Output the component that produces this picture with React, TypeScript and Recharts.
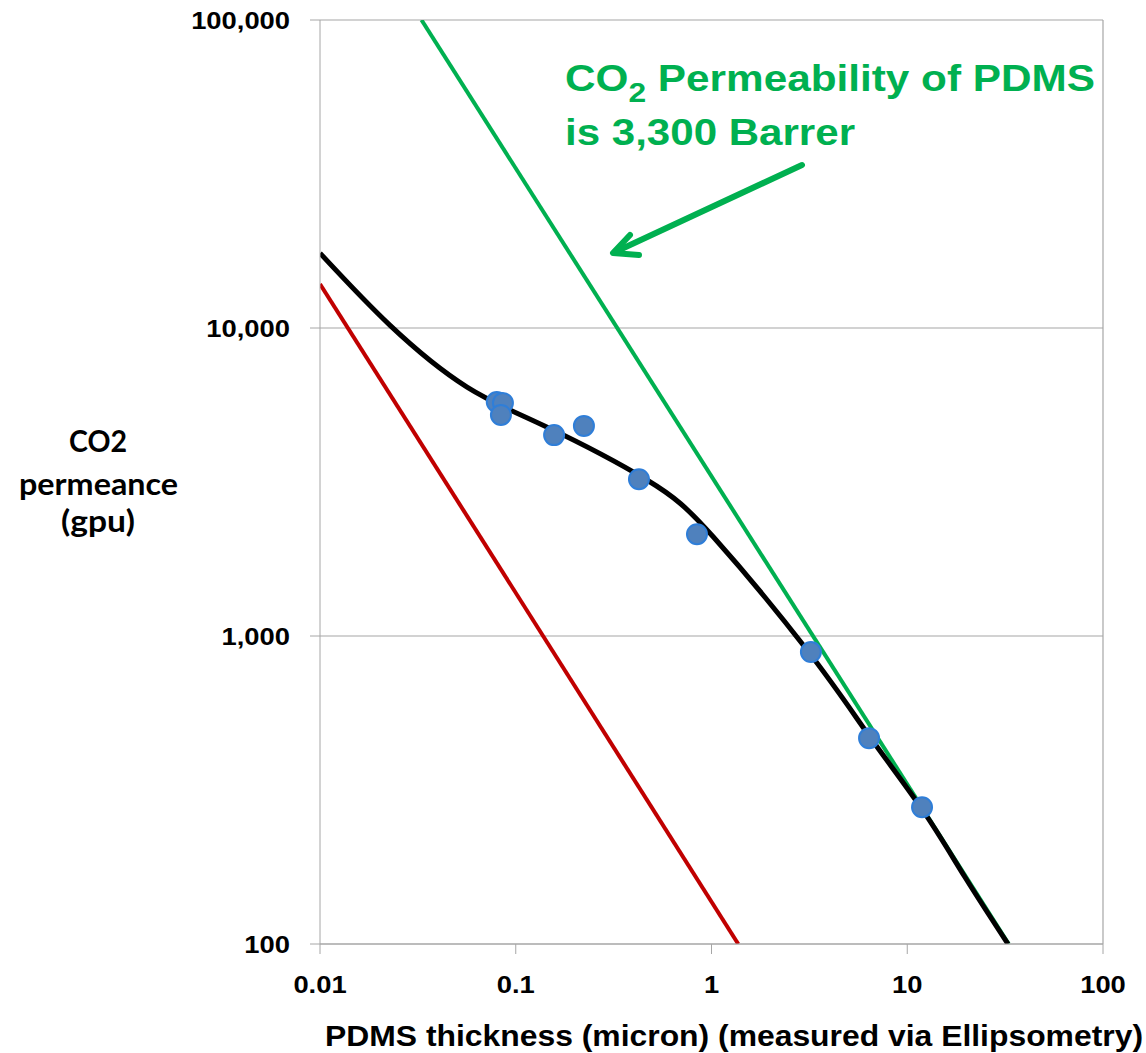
import { ComposedChart, Line, Scatter, XAxis, YAxis, CartesianGrid, ReferenceLine } from 'recharts'

const xTicks = [0.01, 0.1, 1, 10, 100]
const yTicks = [100, 1000, 10000, 100000]

// measured membranes (thickness in micron, CO2 permeance in gpu)
const thickness = [0.08, 0.086, 0.084, 0.157, 0.223, 0.426, 0.843, 3.22, 6.38, 11.9]
const permeance = [5750, 5710, 5220, 4490, 4810, 3230, 2140, 887, 466, 278]

// fitted trend (black)
const fitThickness = [0.01, 0.0228, 0.0564, 0.144, 0.468, 1.02, 3.08, 6.45, 11.9, 19.7, 32.7]
const fitPermeance = [17500, 10200, 6430, 4770, 3210, 2100, 900, 470, 274, 165, 100]

// intrinsic PDMS, 3,300 Barrer (green)
const pdmsThickness = [0.033, 33]
const pdmsPermeance = [100000, 100]

// red line
const redThickness = [0.01, 1.37]
const redPermeance = [13900, 100]

const zip = (xs: number[], ys: number[]) => xs.map((x, i) => ({ x, y: ys[i] }))

const points = zip(thickness, permeance)
const fitData = zip(fitThickness, fitPermeance)
const pdmsData = zip(pdmsThickness, pdmsPermeance)
const redData = zip(redThickness, redPermeance)

const AXIS = '#A6A6A6'
const FONT = '"Liberation Sans", Arial, sans-serif'
const GREEN = '#00B050'

const fmtY = (v: number) => v.toLocaleString('en-US')

function XTick(props: any) {
  const { x, y, payload } = props
  return (
    <text
      transform={`translate(${x},${y}) scale(1.14,1)`}
      textAnchor="middle"
      dy="0.71em"
      fontFamily={FONT}
      fontWeight="bold"
      fontSize={24}
      fill="#000"
    >
      {String(payload.value)}
    </text>
  )
}

function YTick(props: any) {
  const { x, y, payload } = props
  return (
    <text
      transform={`translate(${x},${y}) scale(1.14,1)`}
      textAnchor="end"
      dy="0.355em"
      fontFamily={FONT}
      fontWeight="bold"
      fontSize={24}
      fill="#000"
    >
      {fmtY(payload.value)}
    </text>
  )
}

export default function App() {
  return (
    <div style={{ position: 'absolute', left: 0, top: 0, width: 1146, height: 1053, background: '#fff' }}>
      <ComposedChart width={1146} height={1053} margin={{ top: 20, right: 43, bottom: 0, left: 0 }}>
        <CartesianGrid vertical={false} stroke={AXIS} strokeWidth={1.2} />
        <XAxis
          type="number"
          dataKey="x"
          scale="log"
          domain={[0.01, 100]}
          ticks={xTicks}
          allowDataOverflow
          height={109}
          tickSize={10}
          tickMargin={22}
          stroke={AXIS}
          tick={(p: any) => <XTick {...p} />}
        />
        <YAxis
          type="number"
          dataKey="y"
          scale="log"
          domain={[100, 100000]}
          ticks={yTicks}
          allowDataOverflow
          width={320}
          tickSize={10}
          tickMargin={20}
          stroke={AXIS}
          tick={(p: any) => <YTick {...p} />}
        />
        <ReferenceLine x={100} stroke={AXIS} strokeWidth={1.2} />
        <Line data={redData} dataKey="y" type="linear" stroke="#C00000" strokeWidth={4} dot={false} isAnimationActive={false} />
        <Line data={pdmsData} dataKey="y" type="linear" stroke={GREEN} strokeWidth={4} dot={false} isAnimationActive={false} />
        <Line data={fitData} dataKey="y" type="natural" stroke="#000" strokeWidth={5} dot={false} isAnimationActive={false} />
        <Scatter
          data={points}
          dataKey="y"
          isAnimationActive={false}
          shape={(p: any) => <circle cx={p.cx} cy={p.cy} r={10} fill="#4F81BD" stroke="#2F7ED8" strokeWidth={2} />}
        />
      </ComposedChart>

      <svg width={1146} height={1053} style={{ position: 'absolute', left: 0, top: 0, pointerEvents: 'none' }}>
        <text x={565} y={91} fontFamily={FONT} fontWeight="bold" fontSize={36} fill={GREEN} textLength={530} lengthAdjust="spacingAndGlyphs">
          CO<tspan fontSize={27} dy={11}>2</tspan><tspan dy={-11}> Permeability of PDMS</tspan>
        </text>
        <text x={565} y={145} fontFamily={FONT} fontWeight="bold" fontSize={36} fill={GREEN} textLength={290} lengthAdjust="spacingAndGlyphs">
          is 3,300 Barrer
        </text>
        <line x1={802} y1={165} x2={615} y2={252} stroke={GREEN} strokeWidth={6} strokeLinecap="round" />
        <polyline points="630,235 613,253 639,255" fill="none" stroke={GREEN} strokeWidth={6} strokeLinecap="round" strokeLinejoin="round" />

        <g fontFamily='Lato, "Open Sans", sans-serif' fontWeight="bold" fontSize={31} fill="#000">
          <text x={69} y={452} textLength={58} lengthAdjust="spacingAndGlyphs">CO2</text>
          <text x={19} y={495} textLength={159} lengthAdjust="spacingAndGlyphs">permeance</text>
          <text x={61} y={532} textLength={74} lengthAdjust="spacingAndGlyphs">(gpu)</text>
        </g>
        <text x={325} y={1046} fontFamily={FONT} fontWeight="bold" fontSize={29} fill="#000" textLength={818} lengthAdjust="spacingAndGlyphs">
          PDMS thickness (micron) (measured via Ellipsometry)
        </text>
      </svg>
    </div>
  )
}
